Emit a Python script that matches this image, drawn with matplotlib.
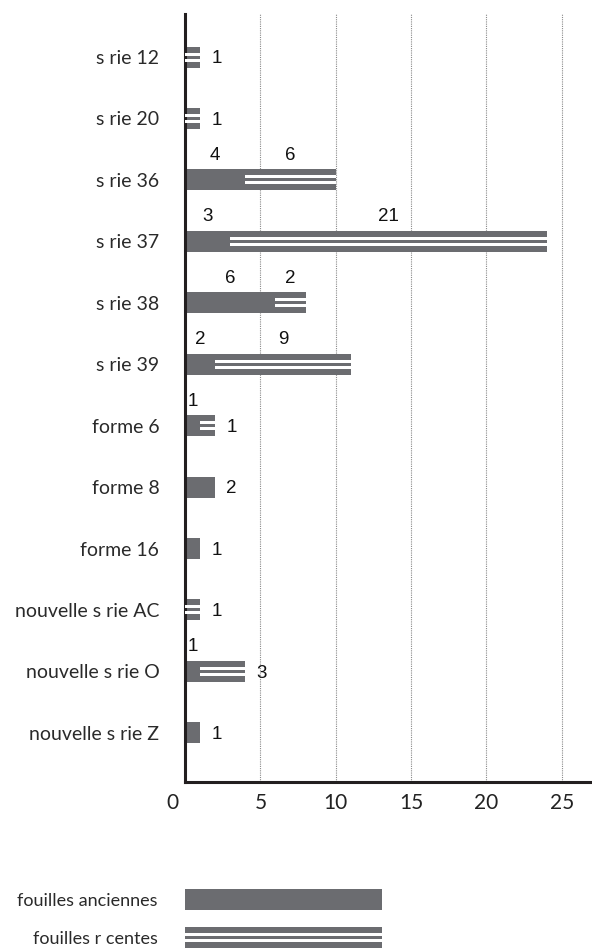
import matplotlib
matplotlib.use('Agg')
import matplotlib.pyplot as plt
import matplotlib.transforms as mtransforms

categories = ['s rie 12', 's rie 20', 's rie 36', 's rie 37', 's rie 38', 's rie 39',
              'forme 6', 'forme 8', 'forme 16', 'nouvelle s rie AC',
              'nouvelle s rie O', 'nouvelle s rie Z']
anciennes = [0, 0, 4, 3, 6, 2, 1, 2, 1, 0, 1, 1]
recentes = [1, 1, 6, 21, 2, 9, 1, 0, 0, 1, 3, 0]
x_ticks = [0, 5, 10, 15, 20, 25]
legend_labels = ['fouilles anciennes', 'fouilles r centes']

GREY = '#6b6c70'
INK = '#231f20'
label_font = ['Lato', 'DejaVu Sans']
value_font = ['Liberation Sans Narrow', 'Liberation Sans', 'DejaVu Sans']

W, H = 592, 952


def striped(ax, y, left, width, h, px):
    # grey bar with two thin white rules = "fouilles recentes"
    ax.barh(y, width, left=left, height=h, color=GREY, linewidth=0, zorder=2)
    for off in (-1, 1):
        ax.barh(y + off * 3 * px, width, left=left, height=3 * px,
                color='white', linewidth=0, zorder=3)


fig = plt.figure(figsize=(W / 100, H / 100), dpi=100)

# main chart
ax = fig.add_axes([185 / W, 1 - 782 / H, 1 - 185 / W, (782 - 14) / H])
ax.set_xlim(0, 27)
ax.set_ylim(11.8, -0.7)
py = 12.5 / 768  # data units per pixel (vertical)
bar_h = 21 * py

ypos = list(range(len(categories)))
ax.barh(ypos, anciennes, height=bar_h, color=GREY, linewidth=0, zorder=2)
for i in ypos:
    if recentes[i]:
        striped(ax, i, anciennes[i], recentes[i], bar_h, py)

for i in ypos:
    a, r = anciennes[i], recentes[i]
    kw = dict(ha='center', va='center', fontsize=13.5, family=value_font, color='#111111')
    if a:
        if r:
            ax.text(a / 2, i - 0.4, str(a), **kw)
        else:
            ax.text(a + 1.1, i + 0.03, str(a), **kw)
    if r:
        if a > 1:
            ax.text(a + r / 2, i - 0.4, str(r), **kw)
        else:
            ax.text(a + r + 1.1, i + 0.03, str(r), **kw)

ax.set_yticks(ypos, categories)
ax.set_xticks(x_ticks)
ax.tick_params(axis='y', length=0, pad=18.5, labelsize=14, labelcolor='#2a2a2a')
ax.tick_params(axis='x', length=0, pad=8, labelsize=15, labelcolor='#222222')
for lab in ax.get_yticklabels() + ax.get_xticklabels():
    lab.set_family(label_font)
first = ax.get_xticklabels()[0]
first.set_transform(first.get_transform() +
                    mtransforms.ScaledTranslation(-13 / 100, 0, fig.dpi_scale_trans))

ax.grid(axis='x', color='#8a8a8a', linestyle=(0, (1, 1)), linewidth=0.8)
ax.set_axisbelow(True)
for s in ['top', 'right']:
    ax.spines[s].set_visible(False)
for s in ['left', 'bottom']:
    ax.spines[s].set_linewidth(2.2)
    ax.spines[s].set_color(INK)

# legend drawn as a little chart of its own
lg = fig.add_axes([185 / W, 0, 1 - 185 / W, 82 / H])
lg.set_xlim(0, 27)
lg.set_ylim(1.38, -0.776)
lpy = 1 / 38
legend_len = 13.1
lg.barh(0, legend_len, height=21 * lpy, color=GREY, linewidth=0)
striped(lg, 1, 0, legend_len, 21 * lpy, lpy)
lg.set_yticks([0, 1], legend_labels)
lg.set_xticks([])
lg.tick_params(axis='y', length=0, pad=19.5, labelsize=13, labelcolor='#2a2a2a')
for lab in lg.get_yticklabels():
    lab.set_family(label_font)
for s in lg.spines.values():
    s.set_visible(False)
lg.patch.set_alpha(0)

fig.savefig('out.png', dpi=100)
